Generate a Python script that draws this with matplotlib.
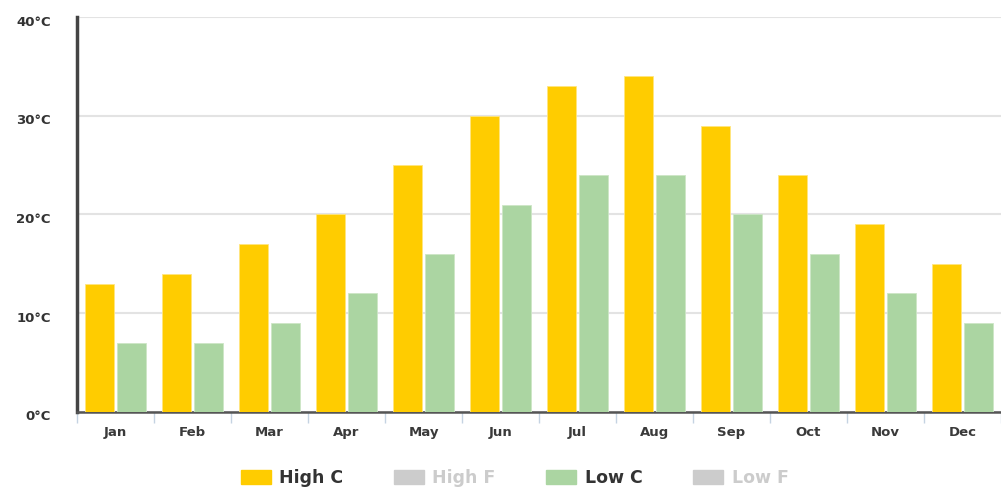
import matplotlib.pyplot as plt
import matplotlib.transforms as mtrans
import numpy as np
from matplotlib.patches import Patch

months = ["Jan", "Feb", "Mar", "Apr", "May", "Jun", "Jul", "Aug", "Sep", "Oct", "Nov", "Dec"]
high_c = [13, 14, 17, 20, 25, 30, 33, 34, 29, 24, 19, 15]
low_c = [7, 7, 9, 12, 16, 21, 24, 24, 20, 16, 12, 9]
y_ticks = [0, 10, 20, 30, 40]
y_labels = ["0°C", "10°C", "20°C", "30°C", "40°C"]

plt.rcParams['font.family'] = ['DejaVu Sans']

fig = plt.figure(figsize=(10.01, 4.88), dpi=100)
ax = fig.add_axes([0.077, 0.156, 0.923, 0.809])

x = np.arange(len(months))
w = 0.38
gap = 0.015
ax.bar(x - w / 2 - gap, high_c, width=w, color="#FFCC00", edgecolor="#FFE680", linewidth=0.6, zorder=3)
ax.bar(x + w / 2 + gap, low_c, width=w, color="#ABD5A2", edgecolor="#CDE6C6", linewidth=0.6, zorder=3)

ax.set_xlim(-0.5, len(months) - 0.5)
ax.set_ylim(0, 40)
ax.set_yticks(y_ticks)
ax.set_yticklabels(y_labels, fontsize=9.5, fontweight="bold", color="#333333")
ax.tick_params(axis="y", length=0, pad=19)
# labels sit a little under the grid lines
shift = mtrans.ScaledTranslation(0, -2.5 / 72, fig.dpi_scale_trans)
for lab in ax.get_yticklabels():
    lab.set_transform(lab.get_transform() + shift)
ax.grid(axis="y", color="#e3e3e3", linewidth=1.5, zorder=0)

ax.set_xticks(x)
ax.set_xticklabels(months, fontsize=9.5, fontweight="bold", color="#3a3a3a")
ax.tick_params(axis="x", which="major", length=0, pad=10)
ax.set_xticks(np.arange(-0.5, len(months), 1), minor=True)
ax.tick_params(axis="x", which="minor", length=8, width=1, color="#c5d3e2", direction="out")

for s in ["top", "right"]:
    ax.spines[s].set_visible(False)
ax.spines["left"].set_color("#444444")
ax.spines["left"].set_linewidth(2.5)
ax.spines["bottom"].set_color("#555555")
ax.spines["bottom"].set_linewidth(1.8)

handles = [Patch(color="#FFCC00"), Patch(color="#CCCCCC"), Patch(color="#ABD5A2"), Patch(color="#CCCCCC")]
names = ["High C", "High F", "Low C", "Low F"]
leg = fig.legend(handles, names, loc="center", bbox_to_anchor=(0.514, 10 / 488), ncol=4, frameon=False,
                 prop={"size": 12.5, "weight": "bold"}, handlelength=1.73, handleheight=0.8, columnspacing=2.9,
                 handletextpad=0.5)
for t, c in zip(leg.get_texts(), ["#333333", "#cccccc", "#333333", "#cccccc"]):
    t.set_color(c)

fig.savefig("out.png", dpi=100)
